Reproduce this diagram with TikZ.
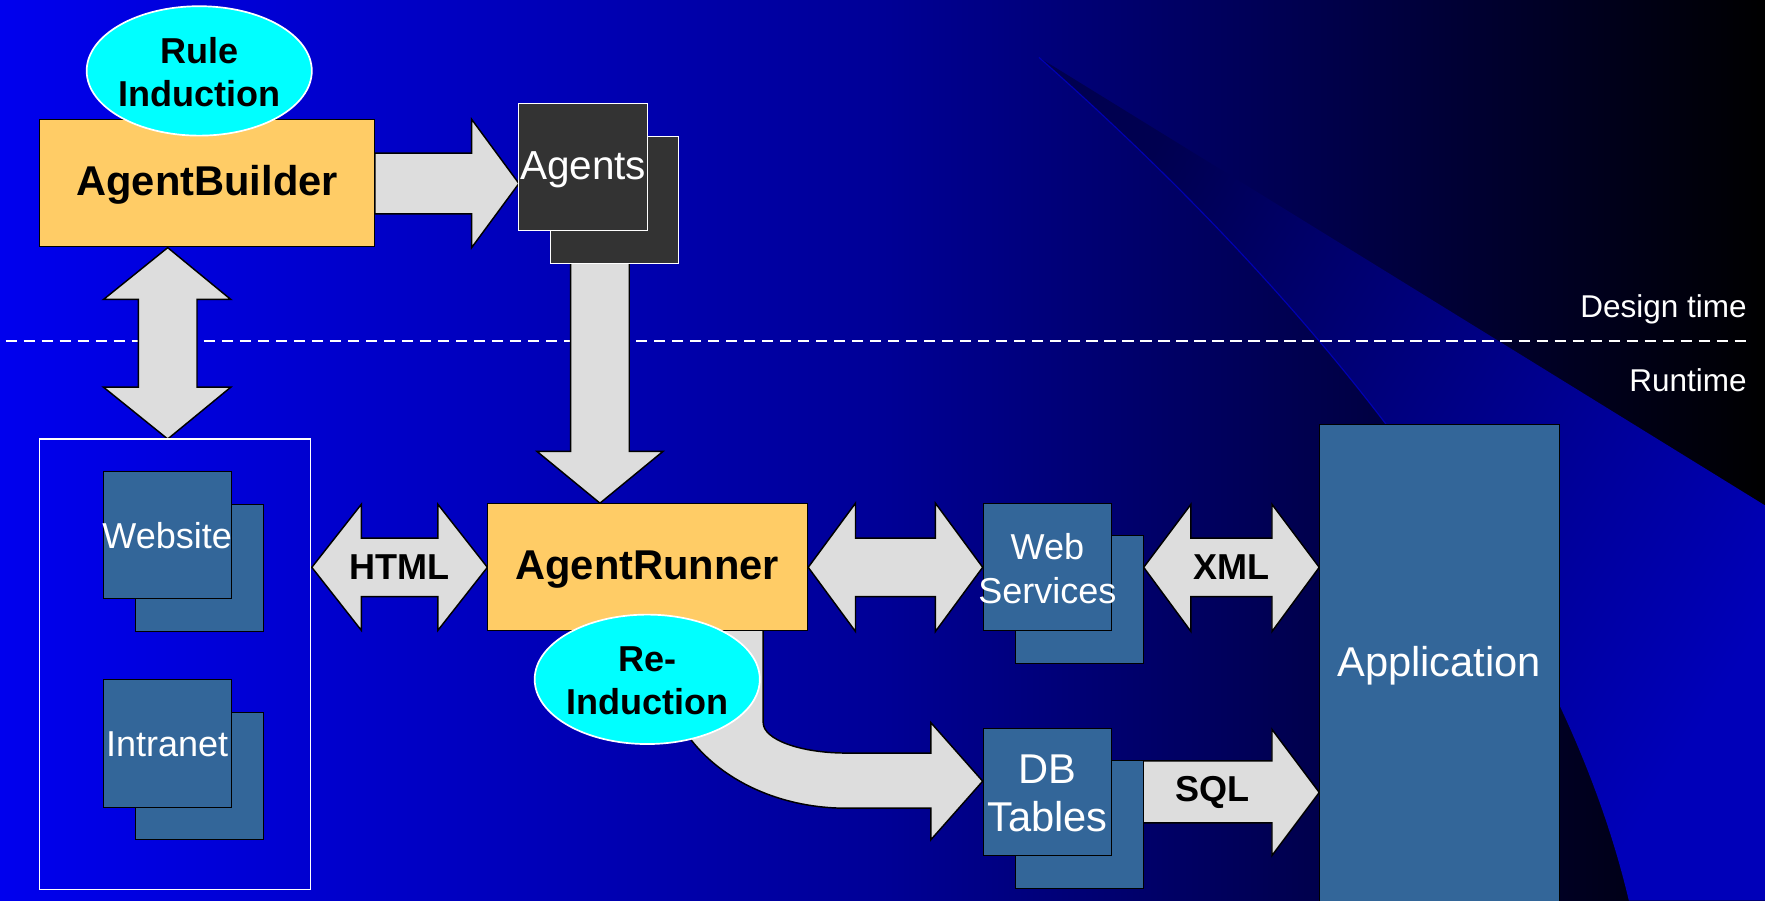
\documentclass[tikz,border=0pt]{standalone}
\usepackage{fontspec}
\setmainfont{Liberation Sans}
\usetikzlibrary{shapes.geometric}
\definecolor{boxorange}{HTML}{FFCC66}
\definecolor{arrowgray}{HTML}{DDDDDD}
\definecolor{steel}{HTML}{336699}
\definecolor{agentgray}{HTML}{333333}
\definecolor{cyanfill}{HTML}{00FFFF}
\definecolor{bgleft}{RGB}{0,0,238}
\definecolor{bgmid}{RGB}{0,0,150}
\definecolor{ovleft}{RGB}{0,0,80}
\definecolor{ovright}{RGB}{0,0,185}
\definecolor{swooshline}{RGB}{0,0,200}
\begin{document}
\begin{tikzpicture}[x=1pt,y=-1pt,
  blockarrow/.style={fill=arrowgray,draw=black,line width=1.3pt,line join=miter},
  obox/.style={rectangle,fill=boxorange,draw=black,line width=0.8pt,inner sep=0pt},
  otext/.style={inner sep=0pt,font=\fontsize{37}{44}\selectfont\bfseries},
  ell/.style={ellipse,fill=cyanfill,draw=white,line width=1.5pt,inner sep=0pt,minimum width=200pt,minimum height=115pt},
  elltext/.style={inner sep=0pt,align=center,font=\fontsize{32}{38}\selectfont\bfseries},
  sbox/.style={rectangle,fill=steel,draw=black,line width=0.8pt,inner sep=0pt,minimum width=114pt,minimum height=113pt},
  stext/.style={inner sep=0pt,text=white,align=center,font=\fontsize{32}{39}\selectfont},
  gbox/.style={rectangle,fill=agentgray,draw=white,line width=1pt,inner sep=0pt,minimum width=114pt,minimum height=113pt},
  lbl/.style={inner sep=0pt,font=\fontsize{32}{38}\selectfont\bfseries},
  side/.style={inner sep=0pt,text=white,font=\fontsize{28}{33}\selectfont}
]
\clip (0,0) rectangle (1568,800);
% background
\shade[left color=bgleft,right color=black,middle color=bgmid] (0,0) rectangle (1568,800);
\shade[top color=ovleft,bottom color=ovright,shading angle=58]
  (923,51) -- (1568,449) -- (1568,800) -- (1447,800)
  .. controls (1400,600) and (1250,340) .. (923,51) -- cycle;
\draw[swooshline,line width=1pt,opacity=0.8] (923,51) .. controls (1086.5,195.5) and (1205.75,332.75) .. (1290,459);
% separator
\draw[white,line width=1.2pt,dash pattern=on 10pt off 6pt] (5,303) -- (1555,303);
\node[side,anchor=base east] (design) at (1552,282) {Design time};
\node[side,anchor=base east] (runtime) at (1552,348) {Runtime};

% block arrows
\draw[blockarrow] (333,136) -- (419,136) -- (419,106) -- (461,163) -- (419,220) -- (419,190) -- (333,190) -- cycle;
\draw[blockarrow] (149,220) -- (205,266) -- (175,266) -- (175,344) -- (205,344) -- (149,390)
  -- (92,344) -- (123,344) -- (123,266) -- (92,266) -- cycle;
\draw[blockarrow] (507,230) -- (559,230) -- (559,401) -- (589,401) -- (533,447) -- (477,401) -- (507,401) -- cycle;
\draw[blockarrow] (277,504) -- (321,448) -- (321,478) -- (389,478) -- (389,448) -- (433,504)
  -- (389,560) -- (389,530) -- (321,530) -- (321,560) -- cycle;
\draw[blockarrow] (718,504) -- (760,447) -- (760,478) -- (831,478) -- (831,447) -- (873,504)
  -- (831,561) -- (831,530) -- (760,530) -- (760,561) -- cycle;
\draw[blockarrow] (1016,504) -- (1058,448) -- (1058,478) -- (1130,478) -- (1130,448) -- (1172,504)
  -- (1130,561) -- (1130,530) -- (1058,530) -- (1058,561) -- cycle;
\draw[blockarrow] (1010,676) -- (1130,676) -- (1130,648) -- (1172,704) -- (1130,760) -- (1130,731) -- (1010,731) -- cycle;
\draw[blockarrow] (590,555) -- (678,555) -- (678,642) .. controls (678,657) and (711,669) .. (752,669)
  -- (827,669) -- (827,642) -- (873,694) -- (827,746) -- (827,718) -- (752,718)
  .. controls (662,718) and (590,661) .. (590,590) -- cycle;

% arrow labels
\node[lbl] (html) at (355,504) {HTML};
\node[lbl] (xml) at (1094,504) {XML};
\node[lbl] (sql) at (1077,704) {SQL};

% agents
\node[gbox] (agentsb) at (546,177.5) {};
\node[gbox] (agentsf) at (518,148.5) {};
\node[stext,font=\fontsize{36}{42}\selectfont] (agentst) at (518,151) {Agents};

% agent builder
\node[obox,minimum width=298pt,minimum height=113pt] (ab) at (184,162.5) {};
\node[otext] (abt) at (184,164) {AgentBuilder};
\node[ell] (rule) at (177,63) {};
\node[elltext] (rulet) at (177,64) {Rule\\Induction};

% web group
\draw[white,line width=1.2pt] (35,390) rectangle (276,790);
\node[sbox] (websiteb) at (177,504.5) {};
\node[sbox] (websitef) at (148.5,475.5) {};
\node[stext] (websitet) at (148.5,476) {Website};
\node[sbox] (intranetb) at (177,689.5) {};
\node[sbox] (intranetf) at (148.5,660.5) {};
\node[stext] (intranett) at (148.5,661) {Intranet};

% agent runner
\node[obox,minimum width=284pt,minimum height=113pt] (ar) at (575,503.5) {};
\node[otext] (art) at (575,506) {AgentRunner};
\node[ell] (reind) at (575,603.5) {};
\node[elltext] (reindt) at (575,605) {Re-\\Induction};

% web services
\node[sbox] (wsb) at (959,532.5) {};
\node[sbox] (wsf) at (930.5,504) {};
\node[stext] (wst) at (930.5,505) {Web\\Services};

% db tables
\node[sbox] (dbb) at (959,732.5) {};
\node[sbox] (dbf) at (930.5,703.5) {};
\node[stext,font=\fontsize{37}{43}\selectfont] (dbt) at (930.5,705) {DB\\Tables};

% application
\node[sbox,minimum width=213pt,minimum height=430pt] (app) at (1278.5,592) {};
\node[stext,font=\fontsize{37}{44}\selectfont] (appt) at (1278.5,591) {Application};
\end{tikzpicture}
\end{document}
